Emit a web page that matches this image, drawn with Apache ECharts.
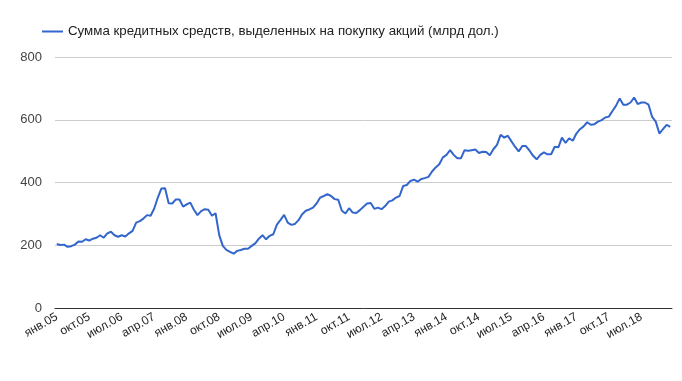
<!DOCTYPE html>
<html>
<head>
<meta charset="utf-8">
<script src="https://cdn.jsdelivr.net/npm/echarts@6/dist/echarts.min.js"></script>
<style>
html,body{margin:0;padding:0;background:#fff;}
#chart{width:682px;height:381px;}
</style>
</head>
<body>
<div id="chart"></div>
<script>
var monthNames = ['янв','фев','мар','апр','май','июн','июл','авг','сен','окт','ноя','дек'];
var startYear = 2005;
var seriesName = 'Сумма кредитных средств, выделенных на покупку акций (млрд дол.)';
var marginDebt = [
  204,201,202,195,197,202,212,211,219,215,221,224,
  232,224,238,243,232,227,232,228,238,246,272,277,
  285,296,294,317,352,381,382,334,333,346,346,323,
  330,336,313,296,309,315,313,294,302,233,198,185,
  179,173,182,185,189,189,198,206,221,232,219,230,
  235,266,281,297,272,265,268,280,299,310,314,320,
  333,352,357,363,357,347,345,310,301,318,304,303,
  312,323,333,335,316,320,315,325,339,343,352,357,
  389,392,405,409,403,411,414,418,435,448,458,480,
  488,503,488,477,477,503,501,503,505,494,498,497,
  487,506,520,552,543,549,531,514,499,516,516,502,
  485,474,488,496,490,490,514,512,543,526,541,533,
  556,570,579,592,584,586,594,599,607,610,628,645,
  668,648,648,655,671,650,655,655,648,609,594,556,
  570,584,577
];
var yTicks = [0, 200, 400, 600, 800];

var categories = [];
for (var i = 0; i < marginDebt.length; i++) {
  var m = i % 12;
  var y = startYear + Math.floor(i / 12);
  categories.push(monthNames[m] + '.' + String(y).slice(2));
}

var font = "'Liberation Sans', Arial, sans-serif";
var chart = echarts.init(document.getElementById('chart'), null, {renderer: 'canvas'});
chart.setOption({
  animation: false,
  backgroundColor: '#ffffff',
  textStyle: {fontFamily: font},
  legend: {
    data: [seriesName],
    left: 37,
    top: 20,
    icon: 'rect',
    itemWidth: 21,
    itemHeight: 2,
    itemGap: 5,
    textStyle: {fontSize: 13.3, color: '#222', fontFamily: font}
  },
  grid: {left: 55, right: 10, top: 57, bottom: 73, containLabel: false},
  xAxis: {
    type: 'category',
    data: categories,
    boundaryGap: true,
    axisLine: {show: true, lineStyle: {color: '#333', width: 1}},
    axisTick: {show: false},
    axisLabel: {
      interval: 8,
      rotate: 30,
      margin: 8,
      fontSize: 12,
      color: '#222',
      fontFamily: font
    },
    splitLine: {show: false}
  },
  yAxis: {
    type: 'value',
    min: yTicks[0],
    max: yTicks[yTicks.length - 1],
    interval: 200,
    axisLine: {show: false},
    axisTick: {show: false},
    axisLabel: {margin: 13, fontSize: 13, color: '#444', fontFamily: font},
    splitLine: {show: true, lineStyle: {color: '#cccccc', width: 1}}
  },
  series: [{
    name: seriesName,
    type: 'line',
    data: marginDebt,
    symbol: 'none',
    showSymbol: false,
    lineStyle: {color: '#3366cc', width: 2},
    itemStyle: {color: '#3366cc'}
  }]
});
</script>
</body>
</html>
